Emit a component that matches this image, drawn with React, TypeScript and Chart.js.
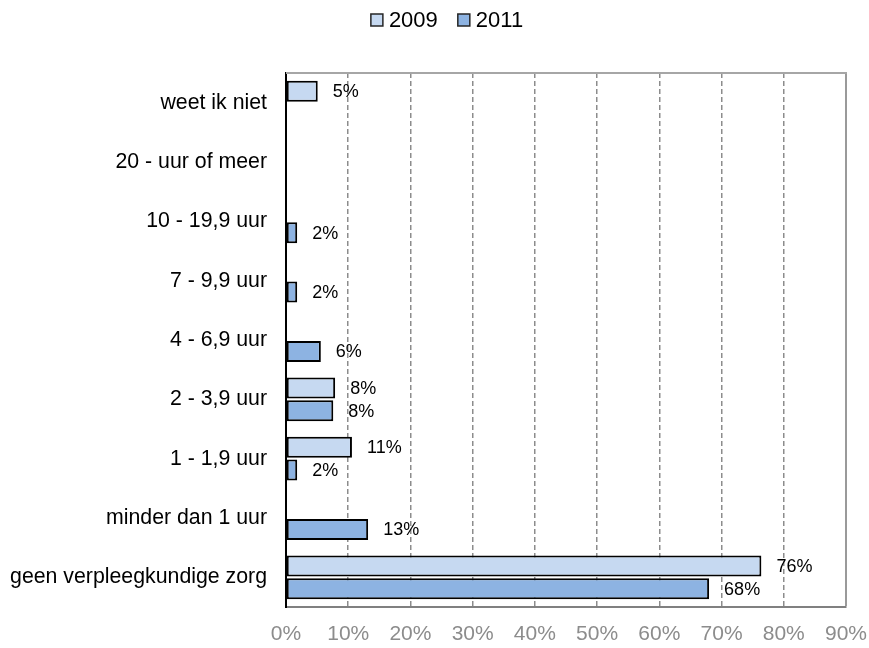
import React, { useEffect, useRef } from "react";
import { Chart, registerables } from "chart.js";

Chart.register(...registerables);

const categories = [
  "weet ik niet",
  "20 - uur of meer",
  "10 - 19,9 uur",
  "7 - 9,9 uur",
  "4 - 6,9 uur",
  "2 - 3,9 uur",
  "1 - 1,9 uur",
  "minder dan 1 uur",
  "geen verpleegkundige zorg",
];
const values2009: (number | null)[] = [5.1, null, null, null, null, 7.9, 10.6, null, 76.4];
const values2011: (number | null)[] = [null, null, 1.8, 1.8, 5.6, 7.6, 1.8, 13.2, 68.0];
const seriesNames = ["2009", "2011"];
const seriesColors = ["#C6D9F1", "#8DB3E2"];
const xTicksMax = 90;
const xTickStep = 10;

const FONT = "'Liberation Sans', Arial, Helvetica, sans-serif";

export default function App() {
  const ref = useRef<HTMLCanvasElement>(null);

  useEffect(() => {
    const canvas = ref.current;
    if (!canvas) return;

    const valueLabels = {
      id: "valueLabels",
      afterDatasetsDraw(chart: any) {
        const ctx = chart.ctx;
        ctx.save();
        ctx.font = `18px ${FONT}`;
        ctx.fillStyle = "#000";
        ctx.textAlign = "left";
        ctx.textBaseline = "middle";
        chart.data.datasets.forEach((ds: any, i: number) => {
          const meta = chart.getDatasetMeta(i);
          meta.data.forEach((el: any, j: number) => {
            const v = ds.data[j];
            if (v == null) return;
            ctx.fillText(`${Math.round(v)}%`, el.x + 15, el.y + 1);
          });
        });
        ctx.restore();
      },
    };

    const frame = {
      id: "frame",
      beforeDatasetsDraw(chart: any) {
        const { ctx, chartArea } = chart;
        ctx.save();
        ctx.strokeStyle = "#a6a6a6";
        ctx.lineWidth = 2;
        ctx.beginPath();
        ctx.moveTo(chartArea.left, chartArea.top);
        ctx.lineTo(chartArea.right + 1, chartArea.top);
        ctx.stroke();
        ctx.restore();
      },
    };

    const customLegend = {
      id: "customLegend",
      afterDraw(chart: any) {
        const ctx = chart.ctx;
        ctx.save();
        ctx.font = `22px ${FONT}`;
        ctx.textBaseline = "middle";
        ctx.textAlign = "left";
        const box = 12;
        const gapBoxText = 6;
        const gapItems = 20;
        const widths = seriesNames.map((n) => box + gapBoxText + ctx.measureText(n).width);
        const total = widths.reduce((a, b) => a + b, 0) + gapItems * (seriesNames.length - 1);
        let x = 447 - total / 2;
        const cy = 20;
        seriesNames.forEach((n, i) => {
          ctx.fillStyle = seriesColors[i];
          ctx.fillRect(x, cy - box / 2, box, box);
          ctx.strokeStyle = "#262626";
          ctx.lineWidth = 1.5;
          ctx.strokeRect(x, cy - box / 2, box, box);
          ctx.fillStyle = "#000";
          ctx.fillText(n, x + box + gapBoxText, cy + 1);
          x += widths[i] + gapItems;
        });
        ctx.restore();
      },
    };

    const chart = new Chart(canvas, {
      type: "bar",
      data: {
        labels: categories,
        datasets: [
          {
            label: seriesNames[0],
            data: values2009,
            backgroundColor: seriesColors[0],
            borderColor: "#000",
            borderWidth: 2,
            borderSkipped: false,
            categoryPercentage: 0.77,
            barPercentage: 0.92,
          },
          {
            label: seriesNames[1],
            data: values2011,
            backgroundColor: seriesColors[1],
            borderColor: "#000",
            borderWidth: 2,
            borderSkipped: false,
            categoryPercentage: 0.77,
            barPercentage: 0.92,
          },
        ],
      },
      options: {
        indexAxis: "y",
        responsive: false,
        animation: false,
        devicePixelRatio: 1,
        layout: { padding: { top: 73, right: 23, left: 0, bottom: 0 } },
        plugins: {
          legend: { display: false },
          tooltip: { enabled: false },
        },
        scales: {
          x: {
            min: 0,
            max: xTicksMax,
            ticks: {
              stepSize: xTickStep,
              callback: (v: any) => `${v}%`,
              color: "#8c8c8c",
              font: { size: 21, family: FONT },
              padding: 15,
              maxRotation: 0,
            },
            grid: {
              drawTicks: false,
              color: (c: any) =>
                c.tick && c.tick.value === 0
                  ? "rgba(0,0,0,0)"
                  : c.tick && c.tick.value === xTicksMax
                  ? "#9a9a9a"
                  : "#8c8c8c",
              lineWidth: (c: any) => (c.tick && c.tick.value === xTicksMax ? 2 : 1.5),
            },
            border: {
              color: "#808080",
              width: 2,
              dash: (c: any) => (c.tick && c.tick.value === xTicksMax ? [] : [5, 3]),
            },
            afterFit: (scale: any) => {
              scale.height = 41;
              scale.paddingLeft = 0;
              scale.paddingRight = 0;
            },
          },
          y: {
            ticks: {
              color: "#000",
              font: { size: 21.3, family: FONT },
              padding: 19,
            },
            grid: { drawTicks: false, color: "rgba(0,0,0,0)" },
            border: { color: "#000", width: 2 },
            afterFit: (scale: any) => {
              scale.width = 286;
              scale.paddingTop = 0;
              scale.paddingBottom = 0;
            },
          },
        },
      },
      plugins: [valueLabels, frame, customLegend],
    } as any);

    return () => chart.destroy();
  }, []);

  return (
    <canvas
      ref={ref}
      width={869}
      height={648}
      style={{ position: "absolute", left: 0, top: 0, display: "block", width: 869, height: 648 }}
    />
  );
}
